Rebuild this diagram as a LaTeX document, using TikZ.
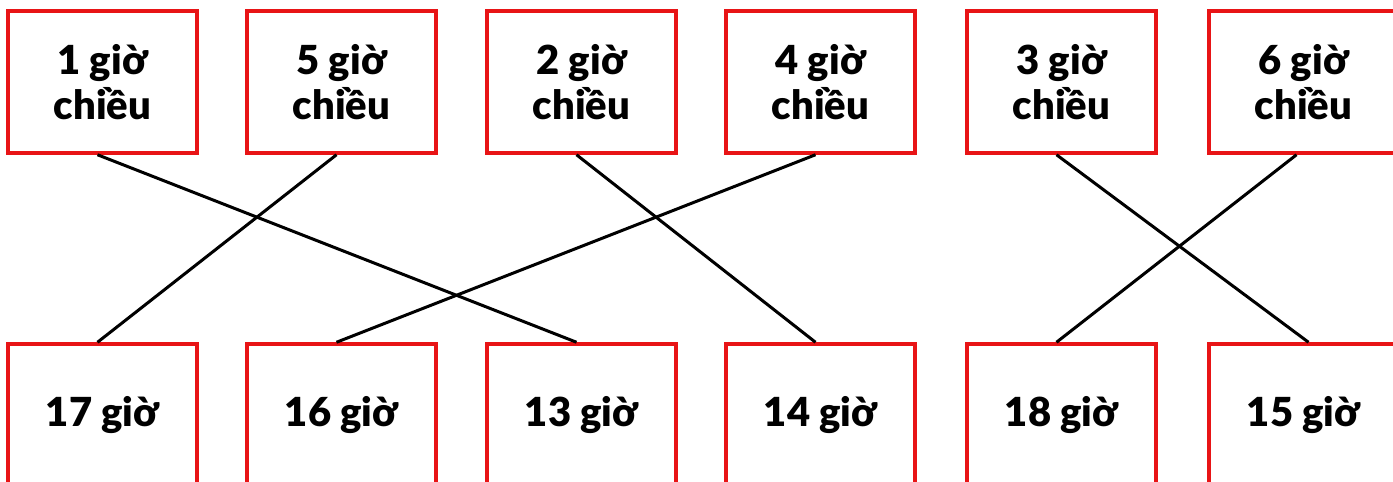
\documentclass[tikz,border=0pt]{standalone}
\usepackage{fontspec}
\setmainfont{Lato Black}
\definecolor{boxred}{RGB}{232,20,22}
\begin{document}
\begin{tikzpicture}[
            x=1pt, y=-1pt,
            every node/.style={font=\fontsize{40}{45}\selectfont, align=center},
            hourbox/.style={draw=boxred, line width=3.5pt, minimum width=189pt, minimum height=142pt, inner sep=0pt},
            link/.style={draw=black, line width=3pt}
        ]
        \useasboundingbox (0,0) rectangle (1393,482);

        % Top row
        \node[hourbox] (t1) at (102.5,82) {1 giờ\\chiều};
        \node[hourbox] (t5) at (341.5,82) {5 giờ\\chiều};
        \node[hourbox] (t2) at (581.5,82) {2 giờ\\chiều};
        \node[hourbox] (t4) at (820.5,82) {4 giờ\\chiều};
        \node[hourbox] (t3) at (1061.5,82) {3 giờ\\chiều};
        \node[hourbox] (t6) at (1303.5,82) {6 giờ\\chiều};

        % Bottom row
        \node[hourbox] (b17) at (102.5,415) {17 giờ};
        \node[hourbox] (b16) at (341.5,415) {16 giờ};
        \node[hourbox] (b13) at (581.5,415) {13 giờ};
        \node[hourbox] (b14) at (820.5,415) {14 giờ};
        \node[hourbox] (b18) at (1061.5,415) {18 giờ};
        \node[hourbox] (b15) at (1303.5,415) {15 giờ};

        \draw[link] ([xshift=-5pt]t1.south) -- ([xshift=-5pt]b13.north);
        \draw[link] ([xshift=-5pt]t5.south) -- ([xshift=-5pt]b17.north);
        \draw[link] ([xshift=-5pt]t2.south) -- ([xshift=-5pt]b14.north);
        \draw[link] ([xshift=-5pt]t4.south) -- ([xshift=-5pt]b16.north);
        \draw[link] ([xshift=-5pt]t3.south) -- ([xshift=5pt]b15.north);
        \draw[link] ([xshift=-7pt]t6.south) -- ([xshift=-5pt]b18.north);

        \end{tikzpicture}
\end{document}
